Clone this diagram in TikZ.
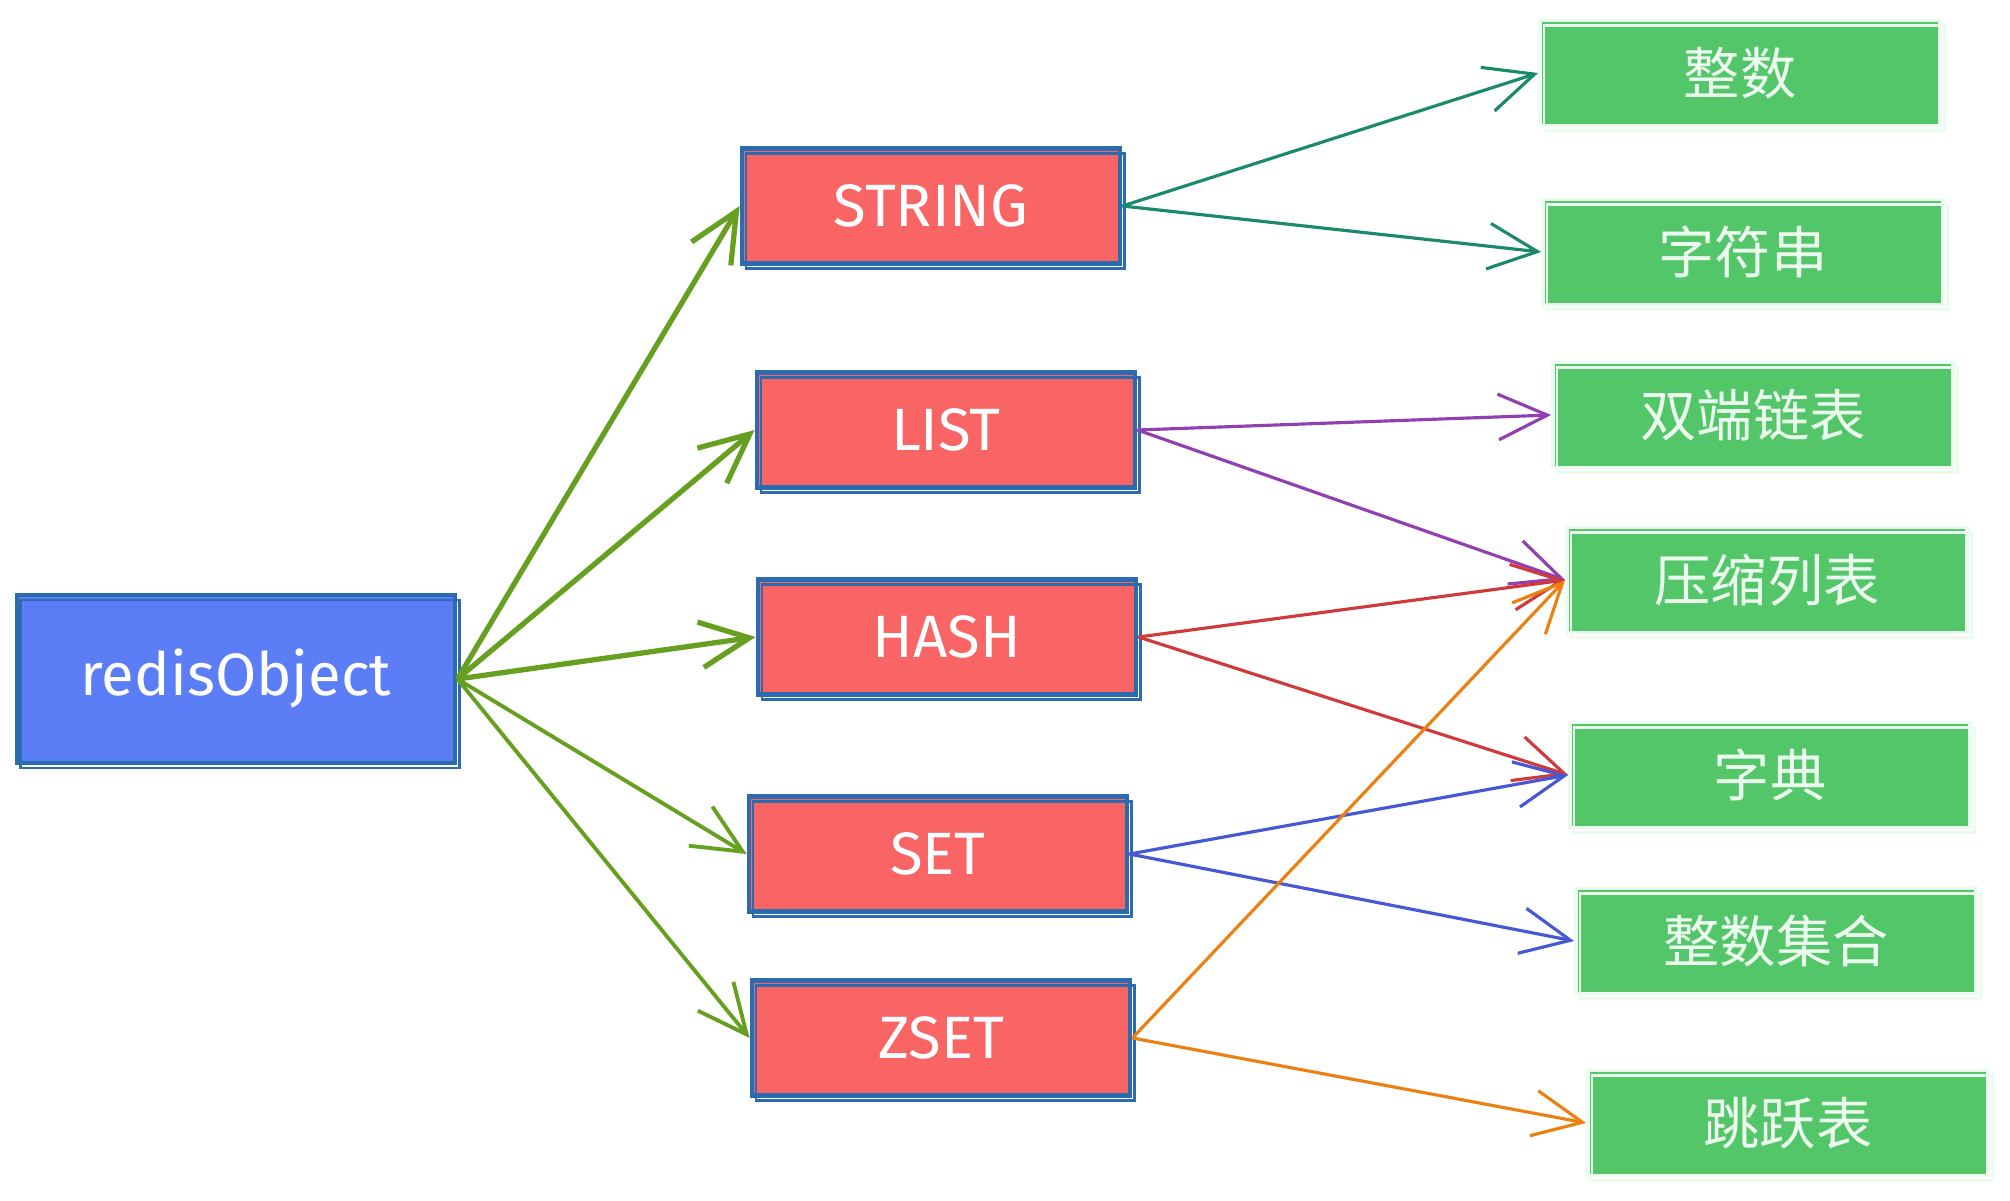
\documentclass[tikz,border=0pt]{standalone}
\usepackage{fontspec}
\setmainfont{Fira Sans}
\newfontfamily\cjk{Noto Sans CJK SC}
\usetikzlibrary{arrows.meta}
\definecolor{objfill}{HTML}{5B7DF5}
\definecolor{edgeblue}{HTML}{2B6CB0}
\definecolor{redfill}{HTML}{F96565}
\definecolor{greenfill}{HTML}{53C66A}
\definecolor{greenedge}{HTML}{EBFBEE}
\definecolor{leafgreen}{HTML}{67A020}
\definecolor{teal}{HTML}{1B8A6B}
\definecolor{plum}{HTML}{9040B0}
\definecolor{brick}{HTML}{CF3A3A}
\definecolor{indigo}{HTML}{4658D4}
\definecolor{amber}{HTML}{EC8010}
\tikzset{
  sketch/.style={postaction={draw=#1,line width=0.8pt,transform canvas={shift={(0.04cm,-0.05cm)}}}},
  typebox/.style={draw=edgeblue,fill=redfill,line width=1.3pt,minimum width=3.78cm,minimum height=1.15cm,
    inner sep=0pt,text=white,font=\fontsize{17}{20}\selectfont,sketch=edgeblue},
  implbox/.style={draw=greenedge,fill=greenfill,line width=1pt,minimum width=4cm,minimum height=1.05cm,
    inner sep=0pt,text=greenedge,font=\cjk\fontsize{16}{19}\selectfont,sketch=greenedge},
  arr/.style={line width=#1,-{Straight Barb[length=14pt,width=13pt]}},
}
\begin{document}
\begin{tikzpicture}[x=0.01cm,y=-0.01cm]
  \useasboundingbox (0,0) rectangle (2010,1200);
  \node[draw=edgeblue,fill=objfill,line width=1.3pt,minimum width=4.38cm,minimum height=1.68cm,inner sep=0pt,
    text=white,font=\fontsize{17}{20}\selectfont,sketch=edgeblue] (obj) at (236,679) {redisObject};
  \node[typebox] (string) at (931,206)  {STRING};
  \node[typebox] (list)   at (946,430)  {LIST};
  \node[typebox] (hash)   at (947,637)  {HASH};
  \node[typebox] (set)    at (938,854)  {SET};
  \node[typebox] (zset)   at (941,1038) {ZSET};
  \node[implbox] (int)      at (1740,73)   {整数};
  \node[implbox] (str)      at (1743,252)  {字符串};
  \node[implbox] (dlist)    at (1753,415)  {双端链表};
  \node[implbox] (ziplist)  at (1767,580)  {压缩列表};
  \node[implbox] (dict)     at (1770,775)  {字典};
  \node[implbox] (intset)   at (1776,941)  {整数集合};
  \node[implbox] (skiplist) at (1788,1123) {跳跃表};
  \draw[arr=1.5pt,leafgreen] (obj.east) -- (string.west);
  \draw[arr=1.5pt,leafgreen] (obj.east) -- (list.west);
  \draw[arr=1.5pt,leafgreen] (obj.east) -- (hash.west);
  \draw[arr=1.1pt,leafgreen] (obj.east) -- (set.west);
  \draw[arr=1.1pt,leafgreen] (obj.east) -- (zset.west);
  \draw[arr=0.9pt,teal] (string.east) -- (int.west);
  \draw[arr=0.9pt,teal] (string.east) -- (str.west);
  \draw[arr=0.9pt,plum] (list.east) -- (dlist.west);
  \draw[arr=0.9pt,plum] (list.east) -- (ziplist.west);
  \draw[arr=0.9pt,brick] (hash.east) -- (ziplist.west);
  \draw[arr=0.9pt,brick] (hash.east) -- (dict.west);
  \draw[arr=0.9pt,indigo] (set.east) -- (dict.west);
  \draw[arr=0.9pt,indigo] (set.east) -- (intset.west);
  \draw[arr=0.9pt,amber] (zset.east) -- (ziplist.west);
  \draw[arr=0.9pt,amber] (zset.east) -- (skiplist.west);
\end{tikzpicture}
\end{document}
